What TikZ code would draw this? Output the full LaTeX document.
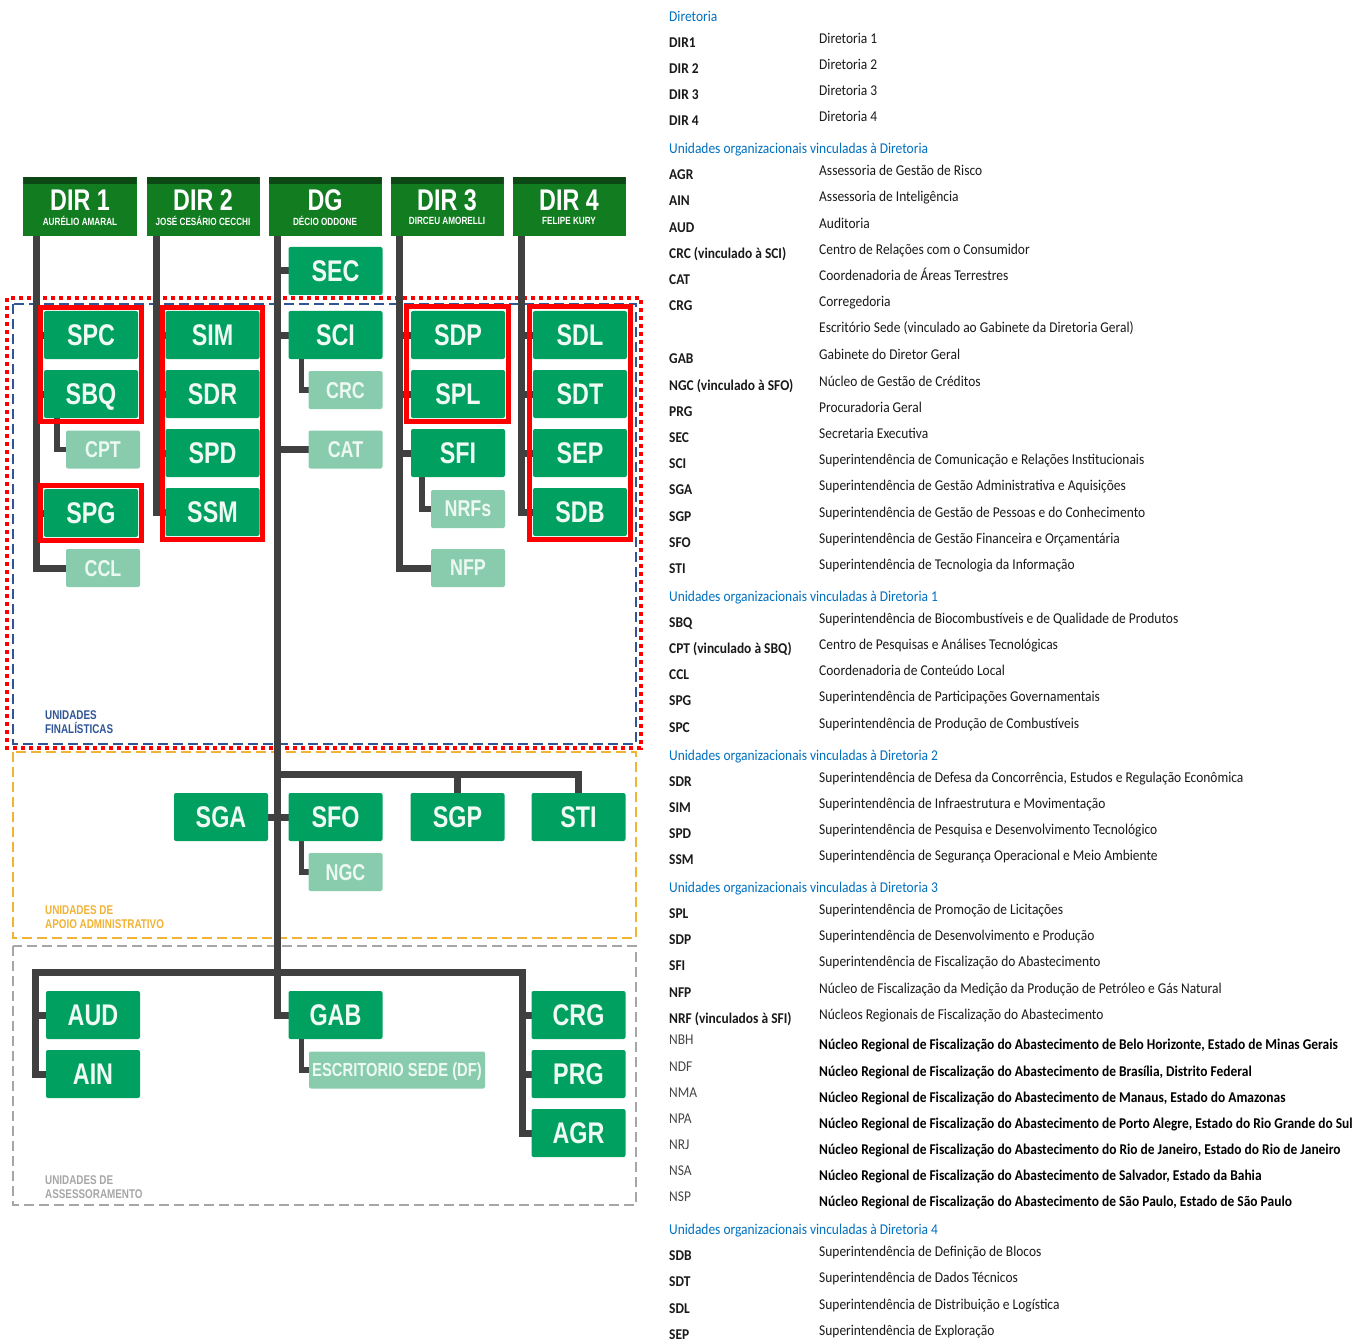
\documentclass[tikz,border=0pt]{standalone}
\usepackage{fontspec}
\setmainfont{Liberation Sans}
\newfontfamily\condfont[FakeStretch=0.78]{Liberation Sans}
\newfontfamily\legfont[FakeStretch=0.9]{Carlito}
\usetikzlibrary{calc}

\definecolor{hdrgreen}{RGB}{17,124,32}
\definecolor{hdrdark}{RGB}{12,72,20}
\definecolor{unitgreen}{RGB}{0,161,96}
\definecolor{unittext}{RGB}{240,250,244}
\definecolor{subgreen}{RGB}{137,204,173}
\definecolor{subtext}{RGB}{236,248,242}
\definecolor{linegray}{RGB}{64,64,64}
\definecolor{finblue}{RGB}{47,85,151}
\definecolor{apoioorange}{RGB}{242,178,52}
\definecolor{assesgray}{RGB}{166,166,166}
\definecolor{legblue}{RGB}{0,112,192}
\definecolor{legtext}{RGB}{26,26,26}
\definecolor{legsoft}{RGB}{70,70,70}

\pgfdeclarelayer{frames}
\pgfdeclarelayer{lines}
\pgfdeclarelayer{marks}
\pgfsetlayers{frames,lines,main,marks}

\begin{document}
\begin{tikzpicture}[x=1bp,y=-1bp,
  hdr/.style={fill=hdrgreen, minimum width=113bp, minimum height=59bp, inner sep=0pt,
    path picture={\fill[hdrdark] (path picture bounding box.north west) rectangle
      ([yshift=-7bp]path picture bounding box.north east);}},
  hdrtitle/.style={inner sep=0pt, text depth=0pt, text=white, font=\condfont\bfseries\fontsize{30}{30}\selectfont},
  hdrsub/.style={inner sep=0pt, text depth=0pt, text=white, font=\condfont\bfseries\fontsize{10.5}{11}\selectfont},
  unit/.style={fill=unitgreen, rounded corners=2bp, minimum width=94bp, minimum height=48bp,
    inner sep=0pt, text depth=0pt, text=unittext, font=\condfont\bfseries\fontsize{30}{30}\selectfont},
  subunit/.style={fill=subgreen, rounded corners=2bp, minimum width=74bp, minimum height=38bp,
    inner sep=0pt, text depth=0pt, text=subtext, font=\condfont\bfseries\fontsize{23}{23}\selectfont},
  trunk/.style={draw=linegray, line width=7bp, line cap=rect},
  branch/.style={draw=linegray, line width=5.5bp, line cap=rect},
  redbox/.style={draw=red, line width=5bp},
  arealabel/.style={anchor=west, inner sep=0pt, align=left,
    font=\condfont\bfseries\fontsize{12.7}{14.5}\selectfont},
  leghead/.style={anchor=base west, inner sep=0pt, text=legblue,
    font=\legfont\fontsize{15}{17}\selectfont},
  leglab/.style={anchor=base west, inner sep=0pt, text=legtext,
    font=\legfont\bfseries\fontsize{15}{17}\selectfont},
  legdesc/.style={anchor=base west, inner sep=0pt, text=legtext,
    font=\legfont\fontsize{15}{17}\selectfont},
  legcode/.style={anchor=base west, inner sep=0pt, text=legsoft,
    font=\legfont\fontsize{15}{17}\selectfont},
  legbold/.style={anchor=base west, inner sep=0pt, text=black,
    font=\legfont\bfseries\fontsize{15}{17}\selectfont}
]
\useasboundingbox (0,0) rectangle (1365,1340);

% ---- grouping frames ----
\begin{pgfonlayer}{frames}
\fill[white] (0,0) rectangle (1365,1340);
\draw[finblue, line width=2.5bp, dash pattern=on 10bp off 5bp] (13,304) rectangle (636,744);
\draw[apoioorange, line width=2.5bp, dash pattern=on 10bp off 5bp] (13,752) rectangle (636,938);
\draw[assesgray, line width=2.5bp, dash pattern=on 10bp off 5bp] (13,946) rectangle (636,1205);
\draw[red, line width=4bp, dash pattern=on 4bp off 4bp] (7,298) rectangle (641,748);
\end{pgfonlayer}

\node[arealabel, text=finblue] (ufin) at (45,722) {UNIDADES\\FINALÍSTICAS};
\node[arealabel, text=apoioorange] (uapo) at (45,917) {UNIDADES DE\\APOIO ADMINISTRATIVO};
\node[arealabel, text=assesgray] (uass) at (45,1187) {UNIDADES DE\\ASSESSORAMENTO};

% ---- boards ----
\node[hdr] (dir1) at (80,206.5) {};
\node[hdr] (dir2) at (203,206.5) {};
\node[hdr] (dg)   at (325,206.5) {};
\node[hdr] (dir3) at (447,206.5) {};
\node[hdr] (dir4) at (569,206.5) {};
\foreach \b/\t/\s in {dir1/DIR 1/AURÉLIO AMARAL, dir2/DIR 2/JOSÉ CESÁRIO CECCHI,
    dg/DG/DÉCIO ODDONE, dir3/DIR 3/DIRCEU AMORELLI, dir4/DIR 4/FELIPE KURY}{
  \node[hdrtitle] (\b-title) at ($(\b.center)+(0,-6.5)$) {\t};
  \node[hdrsub] (\b-name) at ($(\b.center)+(0,14.5)$) {\s};
}

% ---- units ----
\node[unit] (sec) at (335.5,271) {SEC};

\node[unit] (spc) at (91,335) {SPC};
\node[unit] (sbq) at (91,394) {SBQ};
\node[subunit] (cpt) at (103,449.5) {CPT};
\node[unit] (spg) at (91,513) {SPG};
\node[subunit] (ccl) at (103,568) {CCL};

\node[unit] (sim) at (212.5,335) {SIM};
\node[unit] (sdr) at (212.5,394) {SDR};
\node[unit] (spd) at (212.5,453) {SPD};
\node[unit] (ssm) at (212.5,512) {SSM};

\node[unit] (sci) at (335.5,335) {SCI};
\node[subunit] (crc) at (345.5,390) {CRC};
\node[subunit] (cat) at (345.5,449.5) {CAT};

\node[unit] (sdp) at (458,335) {SDP};
\node[unit] (spl) at (458,394) {SPL};
\node[unit] (sfi) at (458,453) {SFI};
\node[subunit] (nrfs) at (468,509) {NRFs};
\node[subunit] (nfp) at (468,568) {NFP};

\node[unit] (sdl) at (580,335) {SDL};
\node[unit] (sdt) at (580,394) {SDT};
\node[unit] (sep) at (580,453) {SEP};
\node[unit] (sdb) at (580,512) {SDB};

\node[unit] (sga) at (221,817) {SGA};
\node[unit] (sfo) at (335.5,817) {SFO};
\node[unit] (sgp) at (457.5,817) {SGP};
\node[unit] (sti) at (578.5,817) {STI};
\node[subunit] (ngc) at (345.5,872) {NGC};

\node[unit] (aud) at (93,1015) {AUD};
\node[unit] (ain) at (93,1074) {AIN};
\node[unit] (gab) at (335.5,1015) {GAB};
\node[subunit, minimum width=176bp, minimum height=37bp,
  font=\condfont\bfseries\fontsize{19}{19}\selectfont] (esc) at (397,1070) {ESCRITORIO SEDE (DF)};
\node[unit] (crg) at (578.5,1015) {CRG};
\node[unit] (prg) at (578.5,1074) {PRG};
\node[unit] (agr) at (578.5,1133) {AGR};

% ---- connectors, drawn behind the boxes ----
\coordinate (t1) at ($(dir1.south west)+(13,0)$);
\coordinate (t2) at ($(dir2.south west)+(10.5,0)$);
\coordinate (t3) at ($(dg.south west)+(9,0)$);
\coordinate (t4) at ($(dir3.south west)+(9.5,0)$);
\coordinate (t5) at ($(dir4.south west)+(9.5,0)$);
\coordinate (apbus) at (t3 |- 0,774);
\coordinate (asL) at ($(aud.west |- 0,972.5)+(-10,0)$);
\coordinate (asR) at ($(crg.west |- 0,972.5)+(-9,0)$);

\begin{pgfonlayer}{lines}
% Diretoria 1
\draw[trunk] (t1) |- (ccl.west);
\foreach \n in {spc,sbq,spg} \draw[trunk] (t1 |- \n.west) -- (\n.west);
\draw[branch] ($(sbq.south west)+(13,0)$) |- (cpt.west);
% Diretoria 2
\draw[trunk] (t2) |- (ssm.west);
\foreach \n in {sim,sdr,spd} \draw[trunk] (t2 |- \n.west) -- (\n.west);
% Diretor Geral
\draw[trunk] (t3) |- (gab.west);
\foreach \n in {sec,sci,cat,sfo} \draw[trunk] (t3 |- \n.west) -- (\n.west);
\draw[trunk] (t3 |- sga.east) -- (sga.east);
\draw[branch] ($(sci.south west)+(13,0)$) |- (crc.west);
\draw[branch] ($(sfo.south west)+(13,0)$) |- (ngc.west);
\draw[branch] ($(gab.south west)+(13,0)$) |- (esc.west);
\draw[trunk] (apbus) -| (sti.north);
\draw[trunk] (apbus -| sgp.north) -- (sgp.north);
\draw[trunk] (asL) -- (asR);
\draw[trunk] (asL) |- (ain.west);
\draw[trunk] (asL |- aud.west) -- (aud.west);
\draw[trunk] (asR) |- (agr.west);
\foreach \n in {crg,prg} \draw[trunk] (asR |- \n.west) -- (\n.west);
% Diretoria 3
\draw[trunk] (t4) |- (nfp.west);
\foreach \n in {sdp,spl,sfi} \draw[trunk] (t4 |- \n.west) -- (\n.west);
\draw[branch] ($(sfi.south west)+(11,0)$) |- (nrfs.west);
% Diretoria 4
\draw[trunk] (t5) |- (sdb.west);
\foreach \n in {sdl,sdt,sep} \draw[trunk] (t5 |- \n.west) -- (\n.west);
\end{pgfonlayer}

% ---- highlighted groups ----
\begin{pgfonlayer}{marks}
\draw[redbox] ($(spc.north west)+(-3,-3)$) rectangle ($(sbq.south east)+(3,3)$);
\draw[redbox] ($(spg.north west)+(-3,-3)$) rectangle ($(spg.south east)+(3,3)$);
\draw[redbox] ($(sim.north west)+(-3,-3)$) rectangle ($(ssm.south east)+(3,3)$);
\draw[redbox] ($(sdp.north west)+(-4,-4)$) rectangle ($(spl.south east)+(3,3)$);
\draw[redbox] ($(sdl.north west)+(-3,-4)$) rectangle ($(sdb.south east)+(3,3)$);
\end{pgfonlayer}

% ---- key ----
\node[leghead] (hdir) at (669,22) {Diretoria};
\node[leghead] (hdg) at (669,154) {Unidades organizacionais vinculadas à Diretoria};
\node[leghead] (hd1) at (669,601) {Unidades organizacionais vinculadas à Diretoria 1};
\node[leghead] (hd2) at (669,760) {Unidades organizacionais vinculadas à Diretoria 2};
\node[leghead] (hd3) at (669,892) {Unidades organizacionais vinculadas à Diretoria 3};
\node[leghead] (hd4) at (669,1234) {Unidades organizacionais vinculadas à Diretoria 4};

\foreach \yy/\lab/\desc [count=\i] in {
  43/DIR1/{Diretoria 1},
  69/DIR 2/{Diretoria 2},
  95/DIR 3/{Diretoria 3},
  121/DIR 4/{Diretoria 4},
  175/AGR/{Assessoria de Gestão de Risco},
  201/AIN/{Assessoria de Inteligência},
  228/AUD/{Auditoria},
  254/{CRC (vinculado à SCI)}/{Centro de Relações com o Consumidor},
  280/CAT/{Coordenadoria de Áreas Terrestres},
  306/CRG/{Corregedoria},
  358/GAB/{Gabinete do Diretor Geral},
  385/{NGC (vinculado à SFO)}/{Núcleo de Gestão de Créditos},
  411/PRG/{Procuradoria Geral},
  437/SEC/{Secretaria Executiva},
  463/SCI/{Superintendência de Comunicação e Relações Institucionais},
  489/SGA/{Superintendência de Gestão Administrativa e Aquisições},
  516/SGP/{Superintendência de Gestão de Pessoas e do Conhecimento},
  542/SFO/{Superintendência de Gestão Financeira e Orçamentária},
  568/STI/{Superintendência de Tecnologia da Informação},
  622/SBQ/{Superintendência de Biocombustíveis e de Qualidade de Produtos},
  648/{CPT (vinculado à SBQ)}/{Centro de Pesquisas e Análises Tecnológicas},
  674/CCL/{Coordenadoria de Conteúdo Local},
  700/SPG/{Superintendência de Participações Governamentais},
  727/SPC/{Superintendência de Produção de Combustíveis},
  781/SDR/{Superintendência de Defesa da Concorrência, Estudos e Regulação Econômica},
  807/SIM/{Superintendência de Infraestrutura e Movimentação},
  833/SPD/{Superintendência de Pesquisa e Desenvolvimento Tecnológico},
  859/SSM/{Superintendência de Segurança Operacional e Meio Ambiente},
  913/SPL/{Superintendência de Promoção de Licitações},
  939/SDP/{Superintendência de Desenvolvimento e Produção},
  965/SFI/{Superintendência de Fiscalização do Abastecimento},
  992/NFP/{Núcleo de Fiscalização da Medição da Produção de Petróleo e Gás Natural},
  1018/{NRF (vinculados à SFI)}/{Núcleos Regionais de Fiscalização do Abastecimento},
  1255/SDB/{Superintendência de Definição de Blocos},
  1281/SDT/{Superintendência de Dados Técnicos},
  1308/SDL/{Superintendência de Distribuição e Logística},
  1334/SEP/{Superintendência de Exploração}}{
  \node[leglab] (code\i) at (669,\yy+5) {\lab};
  \node[legdesc] (name\i) at (819,\yy+1) {\desc};
}
\node[legdesc] (nameesc) at (819,333) {Escritório Sede (vinculado ao Gabinete da Diretoria Geral)};

\foreach \yy/\lab/\desc [count=\i] in {
  1039/NBH/{Núcleo Regional de Fiscalização do Abastecimento de Belo Horizonte, Estado de Minas Gerais},
  1066/NDF/{Núcleo Regional de Fiscalização do Abastecimento de Brasília, Distrito Federal},
  1092/NMA/{Núcleo Regional de Fiscalização do Abastecimento de Manaus, Estado do Amazonas},
  1118/NPA/{Núcleo Regional de Fiscalização do Abastecimento de Porto Alegre, Estado do Rio Grande do Sul},
  1144/NRJ/{Núcleo Regional de Fiscalização do Abastecimento do Rio de Janeiro, Estado do Rio de Janeiro},
  1170/NSA/{Núcleo Regional de Fiscalização do Abastecimento de Salvador, Estado da Bahia},
  1196/NSP/{Núcleo Regional de Fiscalização do Abastecimento de São Paulo, Estado de São Paulo}}{
  \node[legcode] (nrcode\i) at (669,\yy+5) {\lab};
  \node[legbold] (nrname\i) at (819,\yy+10) {\desc};
}
\end{tikzpicture}
\end{document}
